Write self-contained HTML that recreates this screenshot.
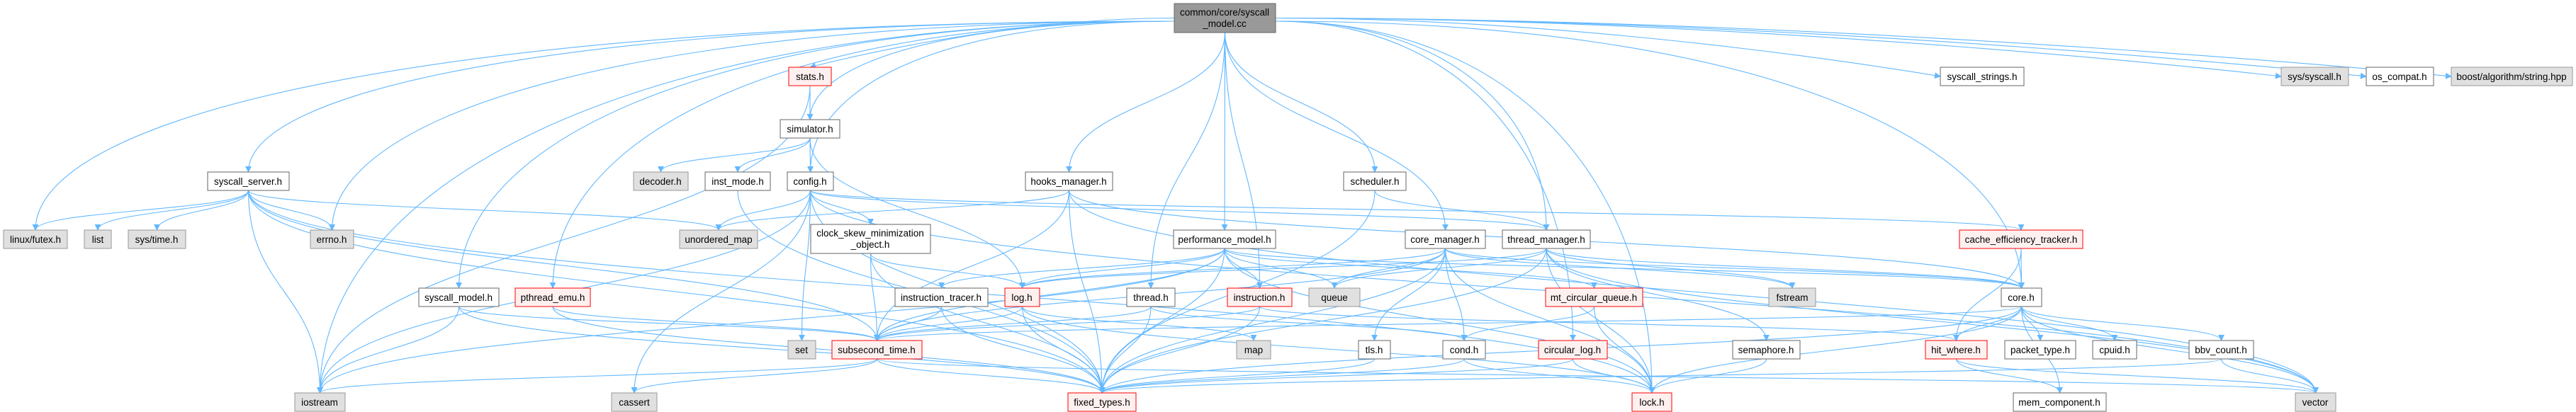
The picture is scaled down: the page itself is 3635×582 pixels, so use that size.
<!DOCTYPE html>
<html><head><meta charset="utf-8"><style>
html,body{margin:0;padding:0;background:#fff;}
svg{display:block;}
text{font-family:"Liberation Sans",Arial,sans-serif;font-size:13.5px;fill:#000;}
</style></head><body>
<svg id="g" width="3635" height="582" viewBox="0 0 3635 582" xmlns="http://www.w3.org/2000/svg">
<defs><marker id="a" viewBox="0 0 10 10" refX="9" refY="5" markerWidth="9" markerHeight="9" markerUnits="userSpaceOnUse" orient="auto"><path d="M0,0 L10,5 L0,10 z" fill="#63b8ff"/></marker></defs>
<g id="edges" fill="none" stroke="#63b8ff" stroke-width="1.1"></g>
<g id="nodes">
<rect x="1657" y="5" width="143" height="41" fill="#999" stroke="#666"/>
<rect x="1144" y="317" width="169" height="41" fill="#fff" stroke="#666"/>
</g>
<g text-anchor="middle">
<text x="1728" y="22">common/core/syscall</text>
<text x="1728" y="38">_model.cc</text>
<text x="1228" y="334">clock_skew_minimization</text>
<text x="1228" y="350">_object.h</text>
<text x="1143" y="113">stats.h</text><text x="2797" y="113">syscall_strings.h</text><text x="3266" y="113">sys/syscall.h</text>
<text x="3386" y="113">os_compat.h</text><text x="3544" y="113">boost/algorithm/string.hpp</text><text x="1143" y="187">simulator.h</text>
<text x="350" y="261">syscall_server.h</text><text x="932" y="261">decoder.h</text><text x="1041" y="261">inst_mode.h</text>
<text x="1143" y="261">config.h</text><text x="1508" y="261">hooks_manager.h</text><text x="1940" y="261">scheduler.h</text>
<text x="50" y="343">linux/futex.h</text><text x="138" y="343">list</text><text x="221" y="343">sys/time.h</text>
<text x="468" y="343">errno.h</text><text x="1014" y="343">unordered_map</text><text x="1728" y="343">performance_model.h</text>
<text x="2039" y="343">core_manager.h</text><text x="2182" y="343">thread_manager.h</text><text x="2852" y="343">cache_efficiency_tracker.h</text>
<text x="647" y="425">syscall_model.h</text><text x="780" y="425">pthread_emu.h</text><text x="1328" y="425">instruction_tracer.h</text>
<text x="1442" y="425">log.h</text><text x="1624" y="425">thread.h</text><text x="1777" y="425">instruction.h</text>
<text x="1883" y="425">queue</text><text x="2249" y="425">mt_circular_queue.h</text><text x="2529" y="425">fstream</text>
<text x="2852" y="425">core.h</text><text x="1131" y="499">set</text><text x="1237" y="499">subsecond_time.h</text>
<text x="1769" y="499">map</text><text x="1939" y="499">tls.h</text><text x="2066" y="499">cond.h</text>
<text x="2219" y="499">circular_log.h</text><text x="2492" y="499">semaphore.h</text><text x="2760" y="499">hit_where.h</text>
<text x="2879" y="499">packet_type.h</text><text x="2984" y="499">cpuid.h</text><text x="3134" y="499">bbv_count.h</text>
<text x="451" y="573">iostream</text><text x="895" y="573">cassert</text><text x="1555" y="573">fixed_types.h</text>
<text x="2331" y="573">lock.h</text><text x="2906" y="573">mem_component.h</text><text x="3267" y="573">vector</text>
</g>
</svg>
<script>
var R={1:[5,46],2:[95,121],3:[169,195],4:[243,269],5:[325,351],6:[407,433],7:[481,507],8:[555,581]};
var N={
stats:[1113,1173,2,'r'],sstr:[2738,2856,2,'w'],syscall:[3219,3314,2,'g'],
osc:[3339,3434,2,'w'],boost:[3459,3630,2,'g'],sim:[1101,1185,3,'w'],
ss:[293,408,4,'w'],dec:[894,971,4,'g'],inst:[995,1087,4,'w'],cfg:[1111,1176,4,'w'],
hooks:[1447,1570,4,'w'],sched:[1896,1984,4,'w'],futex:[5,95,5,'g'],list:[119,157,5,'g'],
systime:[181,262,5,'g'],errno:[438,499,5,'g'],umap:[959,1069,5,'g'],
perf:[1656,1800,5,'w'],cm:[1983,2096,5,'w'],tm:[2120,2244,5,'w'],
cet:[2765,2939,5,'r'],sm:[591,704,6,'w'],pe:[727,833,6,'r'],
it:[1263,1394,6,'w'],log:[1418,1467,6,'r'],thr:[1590,1658,6,'w'],ins:[1732,1823,6,'r'],
queue:[1847,1919,6,'g'],mcq:[2181,2318,6,'r'],fst:[2496,2562,6,'g'],core:[2824,2881,6,'w'],
set:[1112,1151,7,'g'],sub:[1174,1301,7,'r'],map:[1745,1793,7,'g'],tls:[1917,1962,7,'w'],
cond:[2036,2096,7,'w'],clog:[2171,2268,7,'r'],sem:[2445,2540,7,'w'],hw:[2717,2804,7,'r'],
pt:[2829,2929,7,'w'],cpu:[2953,3015,7,'w'],bbv:[3089,3180,7,'w'],ios:[416,487,8,'g'],
cas:[863,927,8,'g'],ft:[1507,1603,8,'r'],lock:[2303,2359,8,'r'],mc:[2841,2972,8,'w'],
vec:[3239,3296,8,'g']};
var P={T:[1657,1800,5,46],csk:[1144,1313,317,358]};
for(var k in N){var n=N[k];P[k]=[n[0],n[1],R[n[2]][0],R[n[2]][1]];}
var E={
T:['ss','futex','errno','sm','pe','ios','stats','sim','cfg','hooks','thr','perf','ins','sched','cm','tm','sstr','syscall','osc','boost','core','clog','lock'],
stats:['sim','ios'],sim:['dec','inst','cfg','log'],
ss:['futex','list','systime','errno','ios','umap','sub','ft','lock'],
cfg:['umap','set','csk','ios','ft','cas','tm','vec','cet'],inst:['ft'],
csk:['log','sub','ft'],hooks:['umap','sub','ft','vec','core'],
perf:['log','sub','ft','queue','ins','ios','mcq','lock','core','it'],
it:['sub','ft'],log:['sub','ft','lock','map'],thr:['sub','cond','ft'],ins:['sub','ft','hw'],
sm:['ios','sub','ft'],pe:['sub','ft'],sub:['ft','cas','ios','vec'],
cm:['queue','tls','cond','lock','fst','ft','sub','core','log'],
tm:['queue','lock','sem','fst','vec','core','ft','log'],
mcq:['cond','lock'],cond:['ft','lock'],tls:['ft'],clog:['ft','lock'],sem:['lock'],
sched:['tm','ft'],cet:['core','hw'],
core:['hw','pt','cpu','bbv','mc','vec','lock','sub','ft'],hw:['mc','vec'],bbv:['vec','ft']};
var s='';
for(var a in E){var A=P[a];E[a].forEach(function(b){var B=P[b];
var sx=(A[0]+A[1])/2,sy=A[3],tx=(B[0]+B[1])/2,ty=B[2];
if(a=='T'&&B[3]<=121){sy=(A[2]+A[3])/2;sx=tx<sx?A[0]:A[1];if(tx>sx){tx=B[0];ty=(B[2]+B[3])/2;}
 s+='<path marker-end="url(#a)" d="M'+sx+','+sy+' C'+(sx+(tx-sx)*0.5)+','+sy+' '+tx+','+ty+' '+tx+','+ty+'"/>';return;}
if(a=='T'&&Math.abs(tx-sx)>400){var sxs=tx<sx?A[0]:A[1];var sys=30;
 s+='<path marker-end="url(#a)" d="M'+sxs+','+sys+' C'+(tx+(sxs-tx)*0.35)+','+sys+' '+tx+','+(ty-(ty-sys)*0.55)+' '+tx+','+ty+'"/>';return;}
var d=(ty-sy)*0.5;
s+='<path marker-end="url(#a)" d="M'+sx+','+sy+' C'+sx+','+(sy+d)+' '+tx+','+(ty-d)+' '+tx+','+ty+'"/>';});}
document.getElementById('edges').innerHTML=s;
var h='';
for(var k in N){var n=N[k],y=R[n[2]];var f=n[3]=='g'?'#e0e0e0':n[3]=='r'?'#fff0f0':'#fff';var st=n[3]=='g'?'#999':n[3]=='r'?'#f00':'#666';
h+='<rect x="'+n[0]+'" y="'+y[0]+'" width="'+(n[1]-n[0])+'" height="'+(y[1]-y[0])+'" fill="'+f+'" stroke="'+st+'"/>';}
document.getElementById('nodes').insertAdjacentHTML('afterbegin',h);
</script>
</body></html>
